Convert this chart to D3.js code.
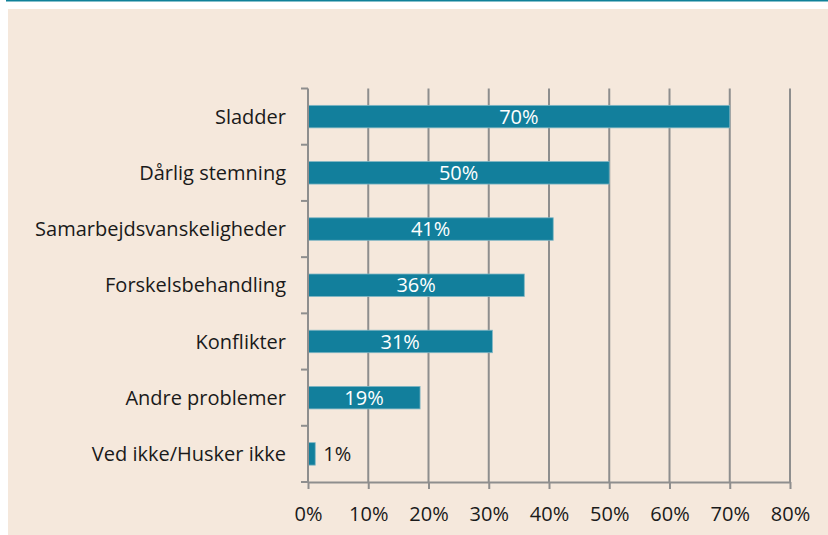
<html>
<head>
<meta charset="utf-8">
<script src="https://d3js.org/d3.v7.min.js"></script>
<style>
  body { margin: 0; background: #ffffff; }
  text { font-family: "Open Sans", "Noto Sans", sans-serif; }
</style>
<script>
var categories = ["Sladder", "Dårlig stemning", "Samarbejdsvanskeligheder", "Forskelsbehandling", "Konflikter", "Andre problemer", "Ved ikke/Husker ikke"]
var values = [70, 50, 40.7, 35.9, 30.6, 18.6, 1.2] // labels show these rounded
var ticks = [0, 10, 20, 30, 40, 50, 60, 70, 80]

window.onload = function () {
  var width = 828
  var height = 535

  var margin = { top: 88.5, right: 38, bottom: 53, left: 308 }
  var fontSize = "20px"

  var svg = d3.select("body").append("svg")
    .attr("width", width)
    .attr("height", height)

  // panel
  svg.append("rect").attr("x", 0).attr("y", 0).attr("width", width).attr("height", height).attr("fill", "#ffffff")
  svg.append("rect").attr("x", 8).attr("y", 9).attr("width", width - 8).attr("height", height - 9).attr("fill", "#f5e8dc")
  svg.append("line").attr("x1", 6).attr("x2", width).attr("y1", 0.5).attr("y2", 0.5)
    .attr("stroke", "#0f8199").attr("stroke-width", 2)

  var x = d3.scaleLinear().domain([0, 80]).range([margin.left, width - margin.right])
  var y = d3.scaleBand().domain(categories).range([margin.top, height - margin.bottom]).paddingInner(0.6).paddingOuter(0.3)
  var yBand = d3.scaleBand().domain(categories).range([margin.top, height - margin.bottom])

  var gridColor = "#8e8e8e"
  var pct = function (d) { return Math.round(d) + "%" }

  // vertical grid lines
  svg.selectAll("line.grid").data(ticks.slice(1)).enter().append("line")
    .attr("class", "grid")
    .attr("x1", function (d) { return x(d) }).attr("x2", function (d) { return x(d) })
    .attr("y1", margin.top).attr("y2", height - margin.bottom)
    .attr("stroke", gridColor).attr("stroke-width", 2)

  // bars
  svg.selectAll("rect.bar").data(values).enter().append("rect")
    .attr("class", "bar")
    .attr("x", x(0))
    .attr("y", function (d, i) { return y(categories[i]) })
    .attr("width", function (d) { return x(d) - x(0) })
    .attr("height", y.bandwidth())
    .attr("fill", "#127f9c")
    .attr("stroke", "#7fb6c4").attr("stroke-width", 0.8)

  // value labels
  svg.selectAll("text.val").data(values).enter().append("text")
    .attr("class", "val")
    .attr("x", function (d) { return d < 5 ? x(d) + 8 : (x(0) + x(d)) / 2 })
    .attr("y", function (d, i) { return y(categories[i]) + y.bandwidth() / 2 })
    .attr("dy", "0.36em")
    .attr("text-anchor", function (d) { return d < 5 ? "start" : "middle" })
    .attr("fill", function (d) { return d < 5 ? "#1a1a1a" : "#ffffff" })
    .attr("font-size", fontSize)
    .text(pct)

  // y axis
  var yAxis = svg.append("g").attr("transform", "translate(" + x(0) + ",0)")
  yAxis.append("line").attr("x1", 0).attr("x2", 0).attr("y1", margin.top).attr("y2", height - margin.bottom)
    .attr("stroke", gridColor).attr("stroke-width", 2)
  var bounds = categories.map(function (c) { return yBand(c) }).concat([height - margin.bottom])
  yAxis.selectAll("line.tick").data(bounds).enter().append("line")
    .attr("class", "tick")
    .attr("x1", -7).attr("x2", 0)
    .attr("y1", function (d) { return d }).attr("y2", function (d) { return d })
    .attr("stroke", gridColor).attr("stroke-width", 2)
  yAxis.selectAll("text").data(categories).enter().append("text")
    .attr("x", -22)
    .attr("y", function (d) { return y(d) + y.bandwidth() / 2 })
    .attr("dy", "0.36em")
    .attr("text-anchor", "end")
    .attr("fill", "#1a1a1a")
    .attr("font-size", fontSize)
    .text(function (d) { return d })

  // x axis
  var xAxis = svg.append("g").attr("transform", "translate(0," + (height - margin.bottom) + ")")
    .call(d3.axisBottom(x).tickValues(ticks).tickSize(7).tickSizeOuter(0).tickPadding(18).tickFormat(function (d) { return d + "%" }))
  xAxis.select(".domain").attr("stroke", gridColor).attr("stroke-width", 2)
  xAxis.selectAll(".tick line").attr("stroke", gridColor).attr("stroke-width", 2)
  xAxis.selectAll(".tick text").attr("font-size", fontSize).attr("fill", "#1a1a1a")
    .attr("font-family", "Open Sans, Noto Sans, sans-serif")
}
</script>
</head>
<body>
</body>
</html>
